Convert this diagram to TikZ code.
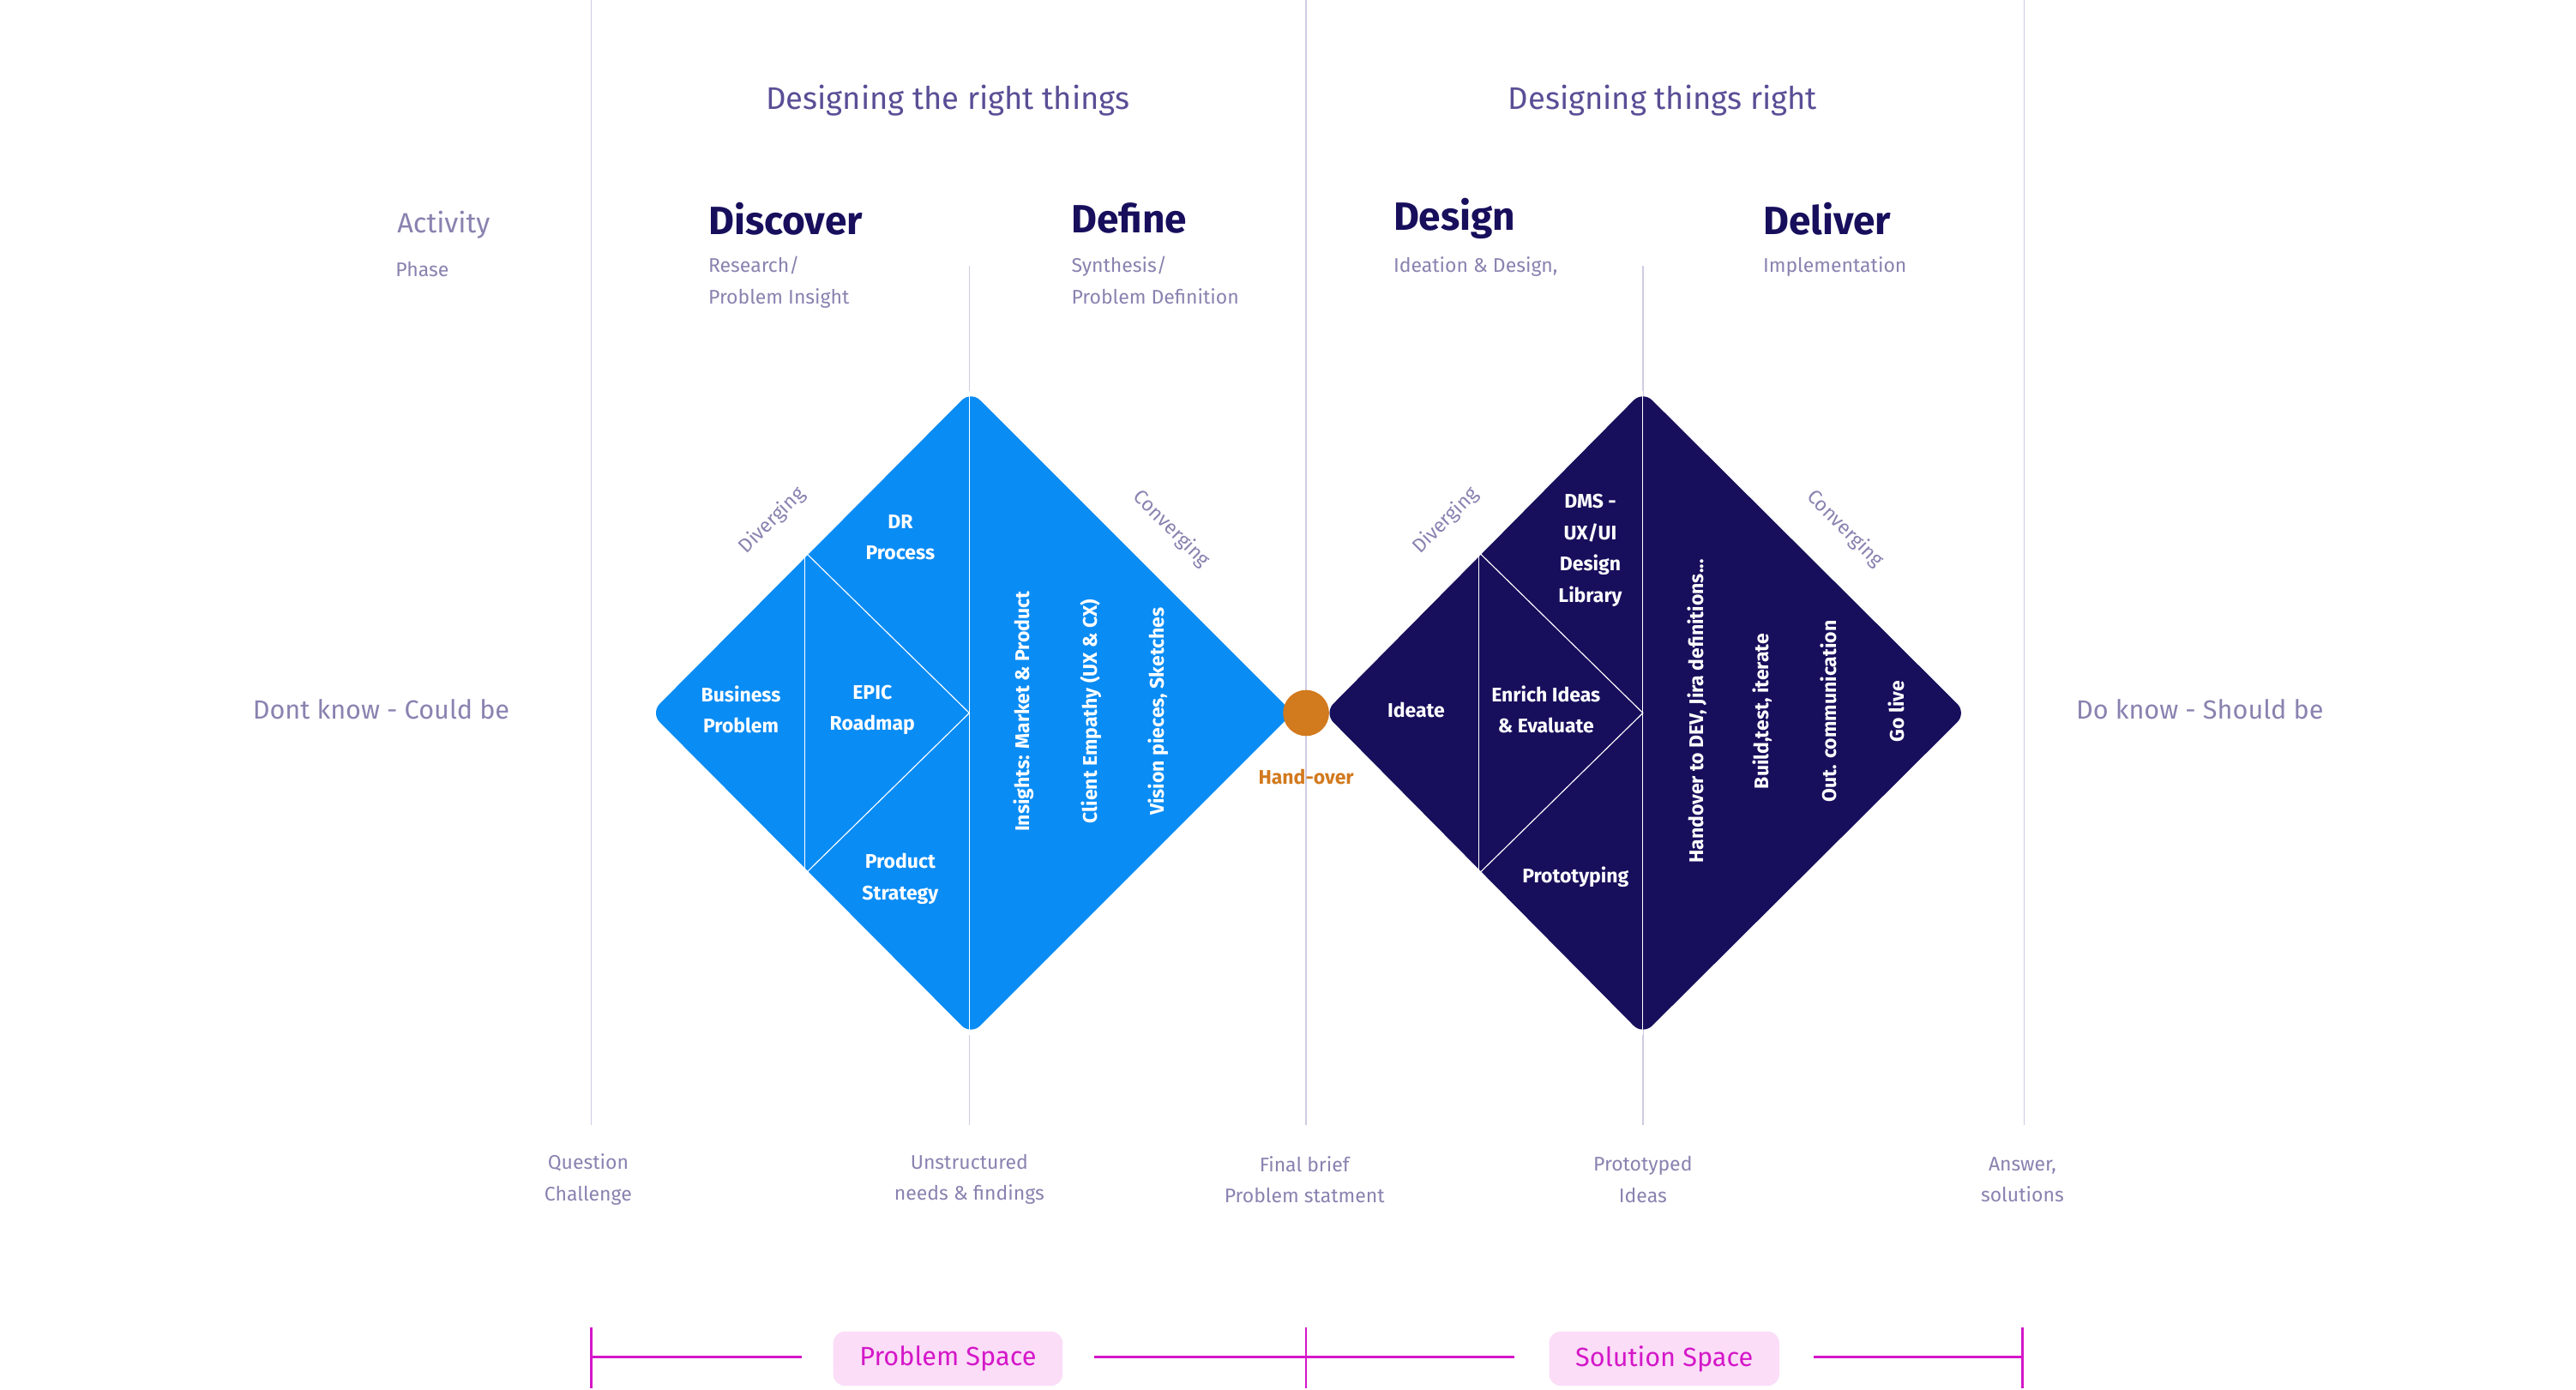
\documentclass[tikz,border=0pt]{standalone}
\usepackage{fontspec}
\setmainfont{Fira Sans}
\definecolor{lblue}{HTML}{0A8CF5}
\definecolor{navy}{HTML}{170F5C}
\definecolor{head}{HTML}{5A4E96}
\definecolor{soft}{HTML}{8A82B0}
\definecolor{vline}{HTML}{CFCBE3}
\definecolor{orng}{HTML}{D27A1E}
\definecolor{mag}{HTML}{D417C8}
\definecolor{pink}{HTML}{FBDDF8}
\begin{document}
\begin{tikzpicture}[x=1pt,y=-1pt,
  vl/.style={vline,line width=0.8pt},
  wl/.style={white,line width=0.6pt},
  wt/.style={white,font=\fontsize{12}{19}\selectfont\bfseries,align=center,inner sep=0},
  rt/.style={wt,rotate=90},
  sub/.style={soft,font=\fontsize{12}{19}\selectfont,align=left,anchor=north west,inner sep=0},
  ph/.style={navy,font=\fontsize{24}{28}\selectfont\bfseries,anchor=west,inner sep=0},
  hd/.style={head,font=\fontsize{19}{22}\selectfont},
  bl/.style={soft,font=\fontsize{12}{19}\selectfont,align=center,inner sep=0},
  dv/.style={soft,font=\fontsize{12}{14}\selectfont,inner sep=0},
  ml/.style={mag,line width=1.3pt},
  pill/.style={fill=pink,text=mag,rounded corners=7pt,font=\fontsize{16}{18}\selectfont,minimum height=33pt,inner xsep=16pt}]
\useasboundingbox (0,0) rectangle (1568,846);
\fill[white] (0,0) rectangle (1568,846);
% vertical lines
\coordinate (v1t) at (360,0); \coordinate (v1b) at (360,685);
\coordinate (v2t) at (795,0); \coordinate (v2b) at (795,685);
\coordinate (v3t) at (1232,0); \coordinate (v3b) at (1232,685);
\coordinate (v4t) at (590,162); \coordinate (v4b) at (590,685);
\coordinate (v5t) at (1000,162); \coordinate (v5b) at (1000,685);
\draw[vl] (v1t)--(v1b); \draw[vl] (v2t)--(v2b); \draw[vl] (v3t)--(v3b);
\draw[vl] (v4t)--(v4b); \draw[vl] (v5t)--(v5b);
% left diamond
\fill[lblue,rounded corners=8pt] (591,238)--(787,434)--(591,630)--(396,434)--cycle;
\draw[wl] (490,336)--(490,532);
\draw[wl] (490,336)--(590,434)--(490,532);
\draw[wl] (590,238)--(590,630);
% right diamond
\fill[navy,rounded corners=8pt] (1000,238)--(1197,434)--(1000,630)--(806,434)--cycle;
\draw[wl] (900,336)--(900,532);
\draw[wl] (900,336)--(1000,434)--(900,532);
\draw[wl] (1000,238)--(1000,630);
% handover
\fill[orng] (795,434) circle (14);
\node[orng,font=\fontsize{12}{14}\selectfont\bfseries] (ho) at (795,473) {Hand-over};
% diamond texts
\node[wt] (dr) at (548,327) {DR\\Process};
\node[wt] (bp) at (451,432) {Business\\Problem};
\node[wt] (ep) at (531,432) {EPIC\\Roadmap};
\node[wt] (ps) at (548,535) {Product\\Strategy};
\node[rt] (i1) at (623,433) {Insights: Market \& Product};
\node[rt] (i2) at (664,433) {Client Empathy (UX \& CX)};
\node[rt] (i3) at (705,433) {Vision pieces, Sketches};
\node[wt] (dms) at (968,335) {DMS -\\UX/UI\\Design\\Library};
\node[wt] (id) at (862,432) {Ideate};
\node[wt] (en) at (941,432) {Enrich Ideas\\\& Evaluate};
\node[wt] (pr) at (959,534) {Prototyping};
\node[rt] (h1) at (1033,433) {Handover to DEV, Jira definitions...};
\node[rt] (h2) at (1073,433) {Build,test, iterate};
\node[rt] (h3) at (1113,433) {Out. communication};
\node[rt] (h4) at (1154,433) {Go live};
% diverging/converging
\node[dv,rotate=45] (d1) at (470,317) {Diverging};
\node[dv,rotate=-45] (c1) at (713,322) {Converging};
\node[dv,rotate=45] (d2) at (880,317) {Diverging};
\node[dv,rotate=-45] (c2) at (1123,322) {Converging};
% headings
\node[hd] (t1) at (577,61) {Designing the right things};
\node[hd] (t2) at (1012,61) {Designing things right};
\node[soft,font=\fontsize{17}{20}\selectfont] (act) at (270,137) {Activity};
\node[soft,font=\fontsize{12}{14}\selectfont] (phs) at (257,164) {Phase};
\node[ph] (p1) at (431,133) {Discover};
\node[ph] (p2) at (652,133) {Define};
\node[ph] (p3) at (848,133) {Design};
\node[ph] (p4) at (1073,133) {Deliver};
\node[sub] (s1) at (431,156) {Research/\\Problem Insight};
\node[sub] (s2) at (652,156) {Synthesis/\\Problem Definition};
\node[sub] (s3) at (848,156) {Ideation \& Design,};
\node[sub] (s4) at (1073,156) {Implementation};
\node[soft,font=\fontsize{16}{18}\selectfont] (dk) at (232,432) {Dont know - Could be};
\node[soft,font=\fontsize{16}{18}\selectfont] (kn) at (1339,432) {Do know - Should be};
% bottom labels
\node[bl] (b1) at (358,718) {Question\\Challenge};
\node[bl] (b2) at (590,718) {Unstructured\\needs \& findings};
\node[bl] (b3) at (794,718) {Final brief\\Problem statment};
\node[bl] (b4) at (1000,718) {Prototyped\\Ideas};
\node[bl] (b5) at (1231,718) {Answer,\\solutions};
% bottom bar
\node[pill] (psp) at (577,827) {Problem Space};
\node[pill] (ssp) at (1013,827) {Solution Space};
\coordinate (m1) at (360,826); \coordinate (m2) at (795,826); \coordinate (m3) at (1231,826);
\draw[ml] (m1)--(488,826); \draw[ml] (666,826)--(m2);
\draw[ml] (m2)--(922,826); \draw[ml] (1104,826)--(m3);
\draw[ml] (360,808)--(360,845); \draw[ml] (795,808)--(795,845); \draw[ml] (1231,808)--(1231,845);
\end{tikzpicture}
\end{document}
